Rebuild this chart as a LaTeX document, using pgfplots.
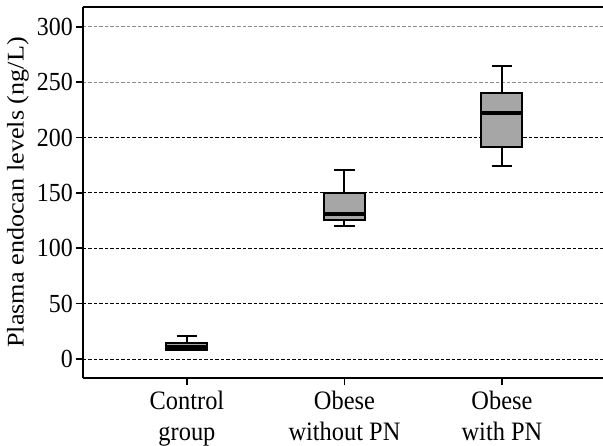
\documentclass[border=0pt]{standalone}
\usepackage{graphicx}
\usepackage{pgfplots}
\pgfplotsset{compat=1.18}
\usepgfplotslibrary{statistics}
\usepackage{fontspec}
\setmainfont{Liberation Serif}
\definecolor{boxfill}{RGB}{166,166,166}
\definecolor{lightgrid}{RGB}{140,140,140}
\newcommand\vs[1]{\scalebox{1}[1.09]{#1}}
\begin{document}
\begin{tikzpicture}
\begin{axis}[
  at={(0,0)}, anchor=south west,
  scale only axis,
  width=524bp, height=371bp,
  xmin=0.340, xmax=3.667,
  ymin=-17.2, ymax=318,
  separate axis lines,
  axis x line*=box,
  axis y line*=left,
  ytick={0,50,...,300},
  xtick={1,2,3},
  xtick pos=bottom, ytick pos=left,
  xticklabels={{\vs{Control}\\\vs{group}}, {\vs{Obese}\\\vs{without PN}}, {\vs{Obese}\\\vs{with PN}}},
  xticklabel style={align=center, inner sep=0pt, yshift=-6bp, font=\fontsize{24.5}{31}\selectfont},
  yticklabel={\vs{\pgfmathprintnumber{\tick}}},
  yticklabel style={inner sep=0pt, xshift=-3bp, font=\fontsize{24}{28}\selectfont},
  /pgf/number format/assume math mode=true,
  ylabel={\scalebox{1.095}[1]{Plasma endocan levels (ng/L)}},
  ylabel style={font=\fontsize{24}{28}\selectfont, inner sep=0pt},
  ylabel shift=-6bp,
  axis line style={line width=2bp, -},
  tick style={line width=1.6bp, black},
  tick align=outside,
  major tick length=7bp,
  ymajorgrids,
  grid style={dash pattern=on 3.5bp off 2bp, lightgrid, line width=0.9bp},
  extra y ticks={0,50,...,200},
  extra y tick labels={},
  extra y tick style={grid style={dash pattern=on 3.5bp off 2bp, black, line width=0.9bp}},
  boxplot/draw direction=y,
  boxplot/box extend=0.26,
  boxplot/whisker extend=0.13,
]
\addplot+[black, line width=2bp, fill=boxfill, solid, mark=none,
  boxplot prepared={lower whisker=8, lower quartile=8.5, median=11, upper quartile=14.5, upper whisker=21},
  boxplot/every median/.style={line width=4bp}] coordinates {};
\addplot+[black, line width=2bp, fill=boxfill, solid, mark=none,
  boxplot prepared={lower whisker=120, lower quartile=125.3, median=131, upper quartile=149.7, upper whisker=170.7},
  boxplot/every median/.style={line width=4bp}] coordinates {};
\addplot+[black, line width=2bp, fill=boxfill, solid, mark=none,
  boxplot prepared={lower whisker=174.6, lower quartile=191.2, median=222.5, upper quartile=240.6, upper whisker=264.7},
  boxplot/every median/.style={line width=4bp}] coordinates {};
\end{axis}
\pgfresetboundingbox
\path[use as bounding box] (-83bp,-68bp) rectangle (520bp,378bp);
\end{tikzpicture}
\end{document}
